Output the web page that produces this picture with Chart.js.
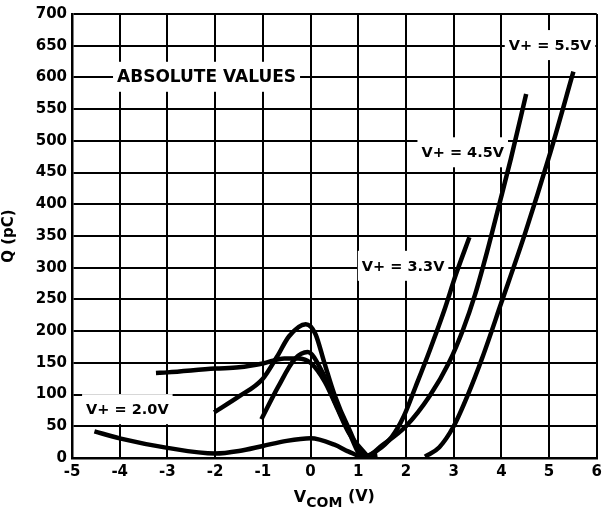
<!DOCTYPE html>
<html>
<head>
<meta charset="utf-8">
<script src="https://cdn.jsdelivr.net/npm/chart.js@4/dist/chart.umd.min.js"></script>
<style>
  body { margin: 0; background: #fff; }
  #wrap { width: 607px; height: 510px; }
</style>
</head>
<body>
<div id="wrap"><canvas id="qChart" width="607" height="510"></canvas></div>
<script>
// tick labels
const xTicks = [-5, -4, -3, -2, -1, 0, 1, 2, 3, 4, 5, 6];
const yTicks = [0, 50, 100, 150, 200, 250, 300, 350, 400, 450, 500, 550, 600, 650, 700];

// V+ = 2.0V
const vcom20 = [-4.53, -4, -3, -2, -1.5, -1, -0.5, 0, 0.5, 0.8, 1.1, 1.4];
const q20    = [42, 31, 16, 7, 11, 19, 27, 31, 21, 10, 2, 5];

// V+ = 3.3V
const vcom33 = [-1.03, -0.68, -0.33, -0.06, 0.25, 0.5, 0.78, 1.1, 1.4, 1.7, 1.95, 2.2, 2.5, 2.8, 3.05, 3.33];
const q33    = [61, 112, 156, 167, 135, 90, 45, 2, 12, 33, 65, 112, 170, 232, 290, 348];

// V+ = 4.5V
const vcom45 = [-2.02, -1.5, -1.0, -0.7, -0.45, -0.1, 0.1, 0.29, 0.5, 0.78, 1.15, 1.5, 2.0, 2.5, 2.9, 3.2, 3.45, 3.7, 3.95, 4.2, 4.52];
const q45    = [72, 97, 125, 160, 192, 211, 196, 150, 100, 50, 2, 20, 50, 98, 150, 203, 258, 325, 398, 472, 574];

// V+ = 5.5V (two branches, gap between)
const vcom55 = [-3.24, -3, -2, -1.5, -1, -0.55, -0.26, 0, 0.3, 0.55, 0.8, 1.2, 1.8, 2.4, 2.7, 3.0, 3.3, 3.6, 4.0, 4.5, 5.0, 5.51];
const q55    = [134, 135, 141, 143, 149, 157, 157, 150, 120, 80, 40, 2, null, 2, 17, 50, 100, 158, 245, 355, 475, 609];

// text notes on the plot
const notes = [
  { text: 'ABSOLUTE VALUES', x: -2.18, y: 601, size: 17 },
  { text: 'V+ = 5.5V', x: 5.02, y: 651, size: 14.5 },
  { text: 'V+ = 4.5V', x: 3.19, y: 482, size: 14.5 },
  { text: 'V+ = 3.3V', x: 1.94, y: 303, size: 14.5 },
  { text: 'V+ = 2.0V', x: -3.84, y: 77, size: 14.5 },
];

const FONT = '"DejaVu Sans", sans-serif';

function toPoints(xs, ys) {
  return xs.map((x, i) => ({ x: x, y: ys[i] }));
}

function curve(label, xs, ys) {
  return {
    label: label,
    data: toPoints(xs, ys),
    showLine: true,
    borderColor: '#000',
    borderWidth: 4.5,
    pointRadius: 0,
    fill: false,
    cubicInterpolationMode: 'monotone',
    spanGaps: false,
    borderCapStyle: 'butt'
  };
}

const notesPlugin = {
  id: 'notes',
  beforeDatasetsDraw(chart) {
    const ctx = chart.ctx;
    const xs = chart.scales.x, ys = chart.scales.y;
    ctx.save();
    notes.forEach(n => {
      ctx.font = `bold ${n.size}px ${FONT}`;
      const w = ctx.measureText(n.text).width;
      const cx = xs.getPixelForValue(n.x);
      const cy = ys.getPixelForValue(n.y);
      ctx.fillStyle = '#fff';
      ctx.fillRect(cx - w / 2 - 4, cy - 15, w + 8, 30);
      ctx.fillStyle = '#000';
      ctx.textAlign = 'center';
      ctx.textBaseline = 'middle';
      ctx.fillText(n.text, cx, cy + 1);
    });
    ctx.restore();
  },
  afterDraw(chart) {
    // x axis title with subscript
    const ctx = chart.ctx;
    ctx.save();
    ctx.fillStyle = '#000';
    ctx.textBaseline = 'alphabetic';
    ctx.textAlign = 'left';
    const cx = (chart.chartArea.left + chart.chartArea.right) / 2;
    ctx.font = `bold 16px ${FONT}`;
    const wV = ctx.measureText('V').width;
    const wP = ctx.measureText(' (V)').width;
    ctx.font = `bold 14px ${FONT}`;
    const wC = ctx.measureText('COM').width;
    let x = cx - (wV + wC + wP) / 2;
    ctx.font = `bold 16px ${FONT}`;
    ctx.fillText('V', x, 502);
    x += wV;
    ctx.font = `bold 14px ${FONT}`;
    ctx.fillText('COM', x, 507);
    x += wC;
    ctx.font = `bold 16px ${FONT}`;
    ctx.fillText(' (V)', x, 501);
    ctx.restore();
  }
};

new Chart(document.getElementById('qChart'), {
  type: 'scatter',
  data: {
    datasets: [
      curve('V+ = 2.0V', vcom20, q20),
      curve('V+ = 3.3V', vcom33, q33),
      curve('V+ = 4.5V', vcom45, q45),
      curve('V+ = 5.5V', vcom55, q55)
    ]
  },
  options: {
    responsive: false,
    animation: false,
    layout: { padding: { top: 12, right: 5, left: 0, bottom: 0 } },
    plugins: {
      legend: { display: false },
      tooltip: { enabled: false }
    },
    scales: {
      x: {
        type: 'linear',
        min: xTicks[0],
        max: xTicks[xTicks.length - 1],
        afterBuildTicks: s => { s.ticks = xTicks.map(v => ({ value: v })); },
        afterFit: s => { s.height = 52; },
        grid: { color: '#000', lineWidth: 2, drawTicks: false },
        border: { color: '#000', width: 2.5 },
        ticks: {
          color: '#000',
          padding: 5,
          font: { family: FONT, weight: 'bold', size: 15 }
        }
      },
      y: {
        type: 'linear',
        min: yTicks[0],
        max: yTicks[yTicks.length - 1],
        afterBuildTicks: s => { s.ticks = yTicks.map(v => ({ value: v })); },
        afterFit: s => { s.width = 72; },
        grid: { color: '#000', lineWidth: 2, drawTicks: false },
        border: { color: '#000', width: 2.5 },
        title: {
          display: true,
          text: 'Q (pC)',
          color: '#000',
          padding: { top: 0, bottom: 0 },
          font: { family: FONT, weight: 'bold', size: 15 }
        },
        ticks: {
          color: '#000',
          padding: 5,
          font: { family: FONT, weight: 'bold', size: 15 }
        }
      }
    }
  },
  plugins: [notesPlugin]
});
</script>
</body>
</html>
